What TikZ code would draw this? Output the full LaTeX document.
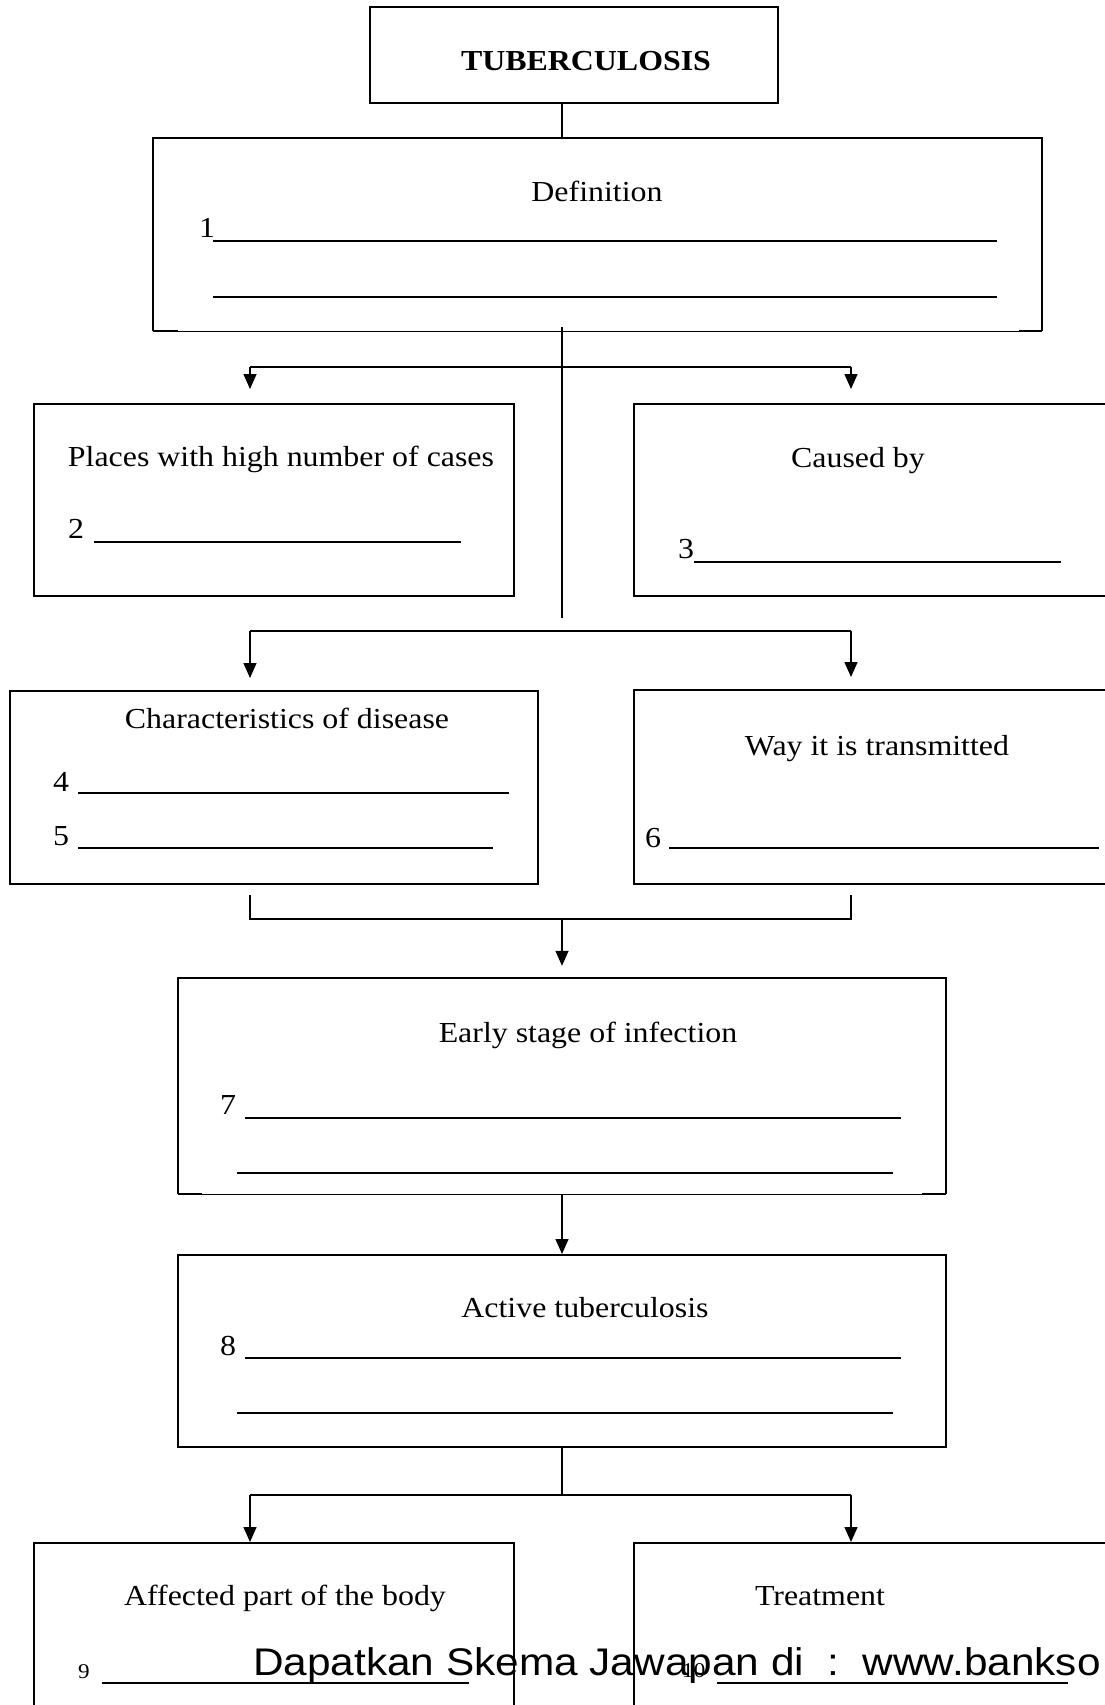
\documentclass[tikz,border=0pt]{standalone}
\usepackage{fontspec}
\setmainfont{Liberation Serif}[FakeStretch=1.1]
\newfontfamily\wmfont{Liberation Sans}[FakeStretch=1.1]
\usetikzlibrary{arrows.meta}
\begin{document}
\begin{tikzpicture}[x=1pt,y=-1pt,
  box/.style={draw, line width=2pt, inner sep=0pt},
  openbox/.style={inner sep=0pt},
  edge/.style={line width=2pt},
  thinedge/.style={line width=0.9pt},
  conn/.style={line width=1.4pt},
  arr/.style={conn, -{Triangle[length=15pt,width=13pt]}},
  lbl/.style={font=\fontsize{29}{34}\selectfont, anchor=base, inner sep=0pt},
  num/.style={font=\fontsize{29}{34}\selectfont, anchor=base west, inner sep=0pt},
  smallnum/.style={font=\fontsize{21}{25}\selectfont, anchor=base west, inner sep=0pt},
  blank/.style={line width=1.3pt}]
\clip (0,0) rectangle (1105,1705);
\fill[white] (0,0) rectangle (1105,1705);

% boxes
\node[box, minimum width=408pt, minimum height=96pt] (title) at (574,55) {};
\node[openbox, minimum width=889pt, minimum height=193pt] (def) at (597.5,234.5) {};
\node[box, minimum width=480pt, minimum height=192pt] (places) at (274,500) {};
\node[box, minimum width=486pt, minimum height=192pt] (caused) at (877,500) {};
\node[box, minimum width=528pt, minimum height=193pt] (char) at (274,787.5) {};
\node[box, minimum width=486pt, minimum height=194pt] (way) at (877,787) {};
\node[openbox, minimum width=768pt, minimum height=216pt] (early) at (562,1086) {};
\node[box, minimum width=768pt, minimum height=192pt] (active) at (562,1351) {};
\node[box, minimum width=480pt, minimum height=177pt] (affected) at (274,1631.5) {};
\node[box, minimum width=486pt, minimum height=177pt] (treat) at (877,1631.5) {};

% open-bottom boxes
\draw[edge] (def.south west) -- (def.north west) -- (def.north east) -- (def.south east);
\draw[thinedge] (def.south west) -- (def.south east);
\draw[edge] (def.south west) -- ++(25,0);
\draw[edge] (def.south east) -- ++(-23,0);
\draw[edge] (early.south west) -- (early.north west) -- (early.north east) -- (early.south east);
\draw[thinedge] (early.south west) -- (early.south east);
\draw[edge] (early.south west) -- ++(24,0);
\draw[edge] (early.south east) -- ++(-24,0);

% connectors
\coordinate (spine) at (562,0);
\draw[conn] (title.south -| spine) -- (def.north -| spine);
\coordinate (spinetop) at (562,327);
\coordinate (spineend) at (562,618);
\draw[conn] (spinetop) -- (spineend);
\coordinate (ja) at (250,367);
\coordinate (jb) at (851,367);
\draw[conn] (ja) -- (jb);
\draw[arr, shorten >=14pt] (ja) -- (ja |- places.north);
\draw[arr, shorten >=14pt] (jb) -- (jb |- caused.north);
\coordinate (ka) at (250,631);
\coordinate (kb) at (851,631);
\draw[conn] (ka) -- (kb);
\draw[arr, shorten >=12pt] (ka) -- (ka |- char.north);
\draw[arr, shorten >=12pt] (kb) -- (kb |- way.north);
\coordinate (ma0) at (250,895);
\coordinate (mb0) at (851,895);
\coordinate (ma) at (250,919);
\coordinate (mb) at (851,919);
\coordinate (mm) at (562,919);
\draw[conn] (ma0) -- (ma) -- (mb) -- (mb0);
\draw[arr, shorten >=12pt] (mm) -- (early.north -| spine);
\draw[arr] (early.south -| spine) -- (active.north -| spine);
\coordinate (na) at (250,1495);
\coordinate (nb) at (851,1495);
\coordinate (nm) at (562,1495);
\draw[conn] (active.south -| spine) -- (nm);
\draw[conn] (na) -- (nb);
\draw[arr] (na) -- (na |- affected.north);
\draw[arr] (nb) -- (nb |- treat.north);

% texts
\node[lbl, font=\fontsize{29}{34}\selectfont\bfseries] (t0) at (586,70) {TUBERCULOSIS};
\node[lbl] (t1) at (597,201) {Definition};
\node[num] (n1) at (199,237) {1};
\draw[blank] (213,241) -- (997,241);
\draw[blank] (213,297) -- (997,297);

\node[lbl] (t2) at (281,466) {Places with high number of cases};
\node[num] (n2) at (68,538) {2};
\draw[blank] (94,542) -- (461,542);

\node[lbl] (t3) at (858,467) {Caused by};
\node[num] (n3) at (678,558) {3};
\draw[blank] (694,562) -- (1061,562);

\node[lbl] (t4) at (287,728) {Characteristics of disease};
\node[num] (n4) at (53,791) {4};
\draw[blank] (78,793) -- (509,793);
\node[num] (n5) at (53,845) {5};
\draw[blank] (78,848) -- (493,848);

\node[lbl] (t5) at (877,755) {Way it is transmitted};
\node[num] (n6) at (645,847) {6};
\draw[blank] (669,848) -- (1099,848);

\node[lbl] (t6) at (588,1042) {Early stage of infection};
\node[num] (n7) at (220,1114) {7};
\draw[blank] (245,1118) -- (901,1118);
\draw[blank] (237,1173) -- (893,1173);

\node[lbl] (t7) at (585,1317) {Active tuberculosis};
\node[num] (n8) at (220,1355) {8};
\draw[blank] (245,1358) -- (901,1358);
\draw[blank] (237,1413) -- (893,1413);

\node[lbl] (t8) at (285,1605) {Affected part of the body};
\node[smallnum] (n9) at (78,1678) {9};
\draw[blank] (102,1683) -- (469,1683);

\node[lbl] (t9) at (820,1605) {Treatment};
\node[smallnum] (n10) at (682,1677) {10};
\draw[blank] (717,1683) -- (1068,1683);

% watermark
\node[anchor=base west, inner sep=0pt, font=\wmfont\fontsize{38.5}{44}\selectfont] (wm) at (253,1675) {Dapatkan Skema Jawapan di\ \ :\ \ www.bankso};
\end{tikzpicture}
\end{document}
